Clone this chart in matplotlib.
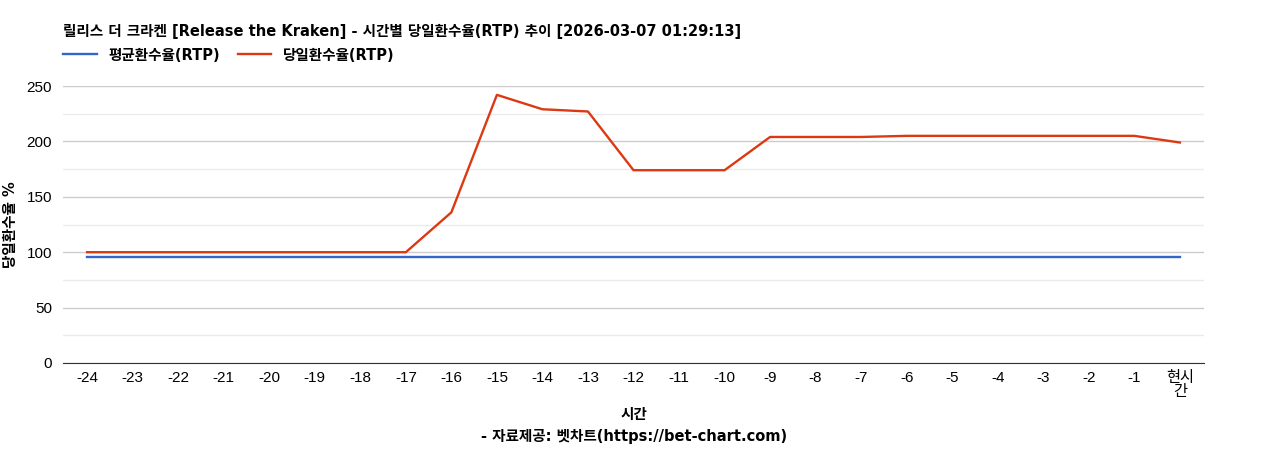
import matplotlib
matplotlib.use("Agg")
import matplotlib.pyplot as plt

plt.rcParams['font.family'] = ['Liberation Sans', 'Noto Sans CJK KR']
BOLD_FAMILY = ['DejaVu Sans', 'Noto Sans CJK KR']

hours = [str(h) for h in range(-24, 0)] + ["현시\n간"]
avg_rtp = [96] * 25
daily_rtp = [100, 100, 100, 100, 100, 100, 100, 100, 136, 242, 229, 227,
             174, 174, 174, 204, 204, 204, 205, 205, 205, 205, 205, 205, 199]

fig = plt.figure(figsize=(12.68, 4.5), dpi=100)
ax = fig.add_axes([63 / 1268, 1 - 363 / 450, (1204 - 63) / 1268, (363 - 86) / 450])

x = range(len(hours))
ax.plot(x, avg_rtp, color="#3366cc", lw=1.7, label="평균환수율(RTP)")
ax.plot(x, daily_rtp, color="#dc3912", lw=1.7, label="당일환수율(RTP)")

ax.set_xlim(-0.53, len(hours) - 0.47)
ax.set_ylim(0, 250)
ax.set_yticks(range(0, 251, 50))
ax.set_yticks(range(25, 250, 50), minor=True)
ax.grid(axis="y", which="major", color="#cccccc", lw=1)
ax.grid(axis="y", which="minor", color="#ebebeb", lw=1)
ax.set_axisbelow(True)
ax.set_xticks(list(x))
ax.set_xticklabels(hours, fontsize=11, linespacing=1.0, va="top")
ax.tick_params(axis="y", which="both", length=0, labelsize=11, pad=8)
ax.tick_params(axis="x", length=0, pad=6)
for s in ["top", "right", "left"]:
    ax.spines[s].set_visible(False)
ax.spines["bottom"].set_color("#333333")

ax.set_ylabel("당일환수율 %", fontsize=10.5, fontweight="bold", labelpad=6, family=BOLD_FAMILY)
fig.text(0.5, 1 - 415 / 450, "시간", ha="center", va="center", fontsize=10.5,
         fontweight="bold", family=BOLD_FAMILY)
fig.text(0.5, 1 - 437 / 450, "- 자료제공: 벳차트(https://bet-chart.com)", ha="center", va="center",
         fontsize=10.5, fontweight="bold", family=BOLD_FAMILY)
fig.text(63 / 1268, 1 - 31 / 450,
         "릴리스 더 크라켄 [Release the Kraken] - 시간별 당일환수율(RTP) 추이 [2026-03-07 01:29:13]",
         ha="left", va="center", fontsize=10.5, fontweight="bold", family=BOLD_FAMILY)
fig.legend(loc="center left", bbox_to_anchor=(56 / 1268, 1 - 55 / 450), ncol=2, frameon=False,
           prop={"weight": "bold", "size": 10.5, "family": BOLD_FAMILY},
           handlelength=2.3, columnspacing=1.2, borderpad=0)

fig.savefig("out.png", dpi=100)
